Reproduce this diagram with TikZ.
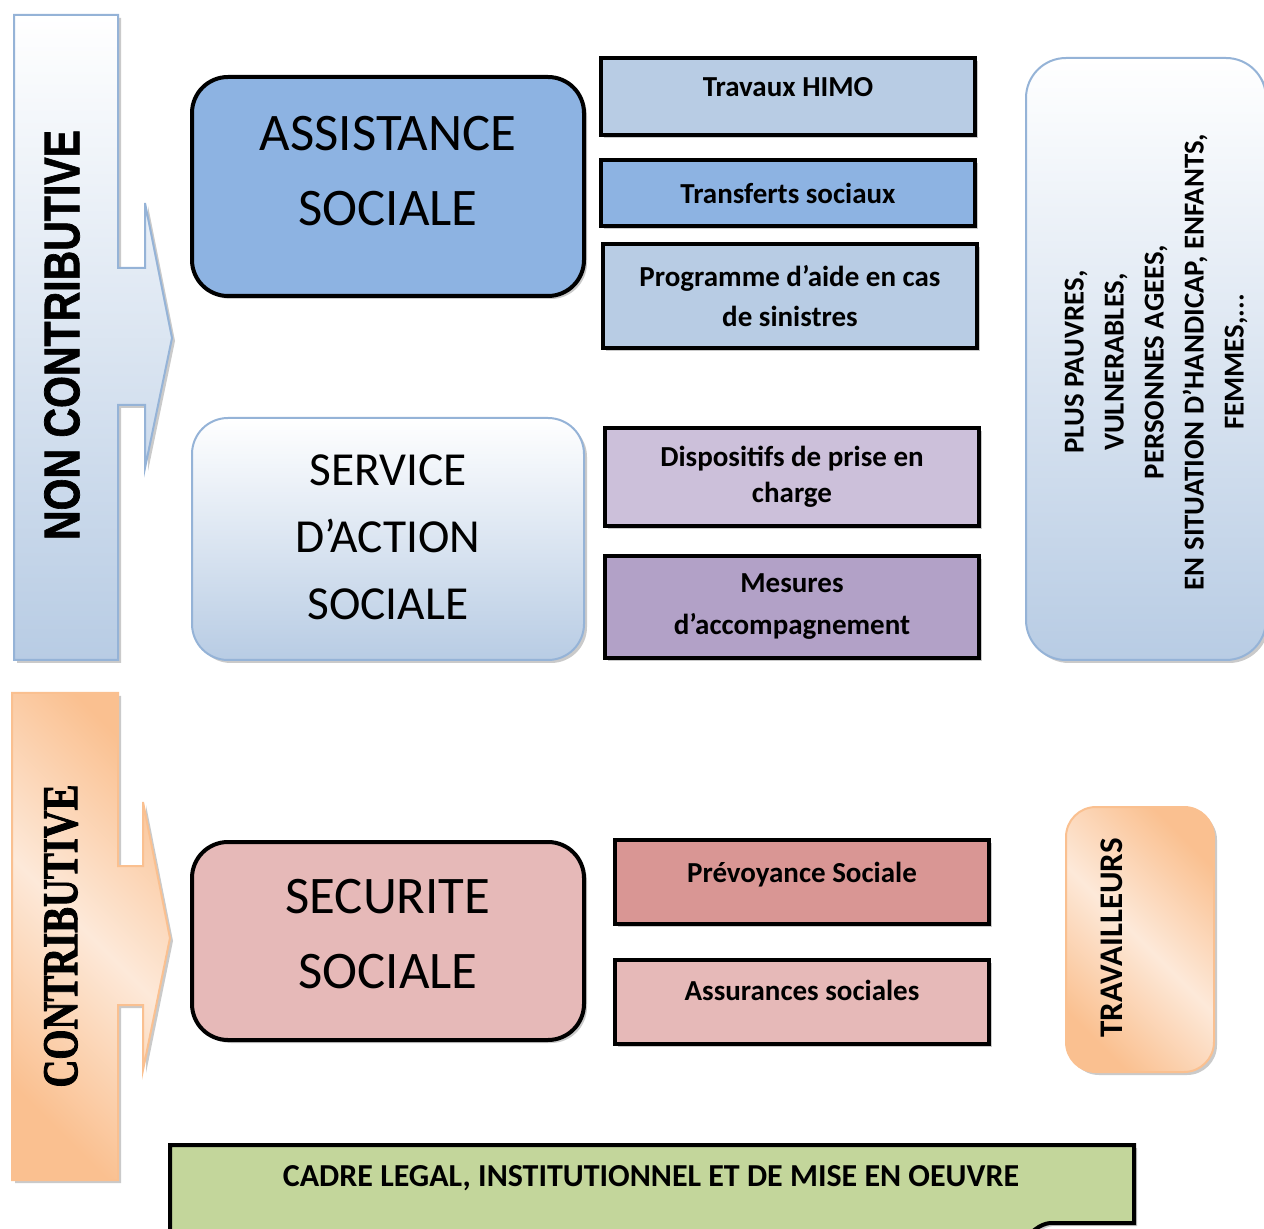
\documentclass[tikz,border=0pt]{standalone}
\usepackage{fontspec}
\usepackage{graphicx}
\setmainfont{Carlito}
\newfontfamily\bannerfont[FakeBold=1.5]{Liberation Sans}
\newfontfamily\bannerseriffont[FakeBold=2]{Liberation Serif}
\usetikzlibrary{shadows}

\definecolor{skyblue}{HTML}{8DB3E2}
\definecolor{paleblue}{HTML}{B8CCE4}
\definecolor{lineblue}{HTML}{95B3D7}
\definecolor{lilac}{HTML}{CCC0DA}
\definecolor{mauve}{HTML}{B2A1C7}
\definecolor{rosedark}{HTML}{D99694}
\definecolor{roselight}{HTML}{E6B9B8}
\definecolor{peach}{HTML}{FAC090}
\definecolor{peachlight}{HTML}{FDE9D9}
\definecolor{sage}{HTML}{C3D69B}

\tikzset{
  softshadow/.style={drop shadow={shadow xshift=1.5pt, shadow yshift=-1.5pt, fill=black!60, opacity=0.35}},
  bigbox/.style={draw=black, line width=2pt, rounded corners=18pt, minimum width=196pt, softshadow},
  bigtext/.style={align=center, font=\fontsize{26.4}{37.5}\selectfont},
  smallbox/.style={draw=black, line width=2pt, minimum width=187pt, align=center,
    font=\fontsize{14.5}{20}\selectfont\bfseries, softshadow},
  raised/.style={text depth=10pt},
  bluegrad/.style={draw=lineblue, line width=1pt, top color=white, bottom color=paleblue, softshadow},
  peachgrad/.style={draw=peach, line width=1pt, left color=peach, right color=peach, middle color=peachlight, shading angle=135, softshadow},
  sidetext/.style={rotate=90, align=center, font=\fontsize{14.4}{20}\selectfont\bfseries}
}

\begin{document}
\begin{tikzpicture}[x=0.5pt, y=-0.5pt]
  \useasboundingbox (0,0) rectangle (1264,1229);
  \clip (0,0) rectangle (1264,1229);

  % fleches de gauche
  \draw[bluegrad] (14,15) -- (118,15) -- (118,268) -- (145,268) -- (145,203) -- (172,338)
    -- (145,468) -- (145,405) -- (118,405) -- (118,660) -- (14,660) -- cycle;
  \node[rotate=90] (noncontrib) at (62,335) {\bannerfont\bfseries\resizebox{205pt}{17.5pt}{NON CONTRIBUTIVE}};

  \draw[peachgrad] (12,693) -- (118,693) -- (118,866) -- (143,866) -- (143,802) -- (170,938)
    -- (143,1070) -- (143,1005) -- (118,1005) -- (118,1180) -- (12,1180) -- cycle;
  \node[rotate=90] (contrib) at (61,936) {\bannerseriffont\bfseries\resizebox{151.5pt}{16.5pt}{CONTRIBUTIVE}};

  % grands blocs
  \node[bigbox, fill=skyblue, minimum height=109.5pt] (assist) at (388,186.5) {};
  \node[bigtext] (assisttxt) at (388,171) {ASSISTANCE\\SOCIALE};

  \node[bigbox, draw=lineblue, line width=1pt, top color=white, bottom color=paleblue,
    minimum height=121pt] (service) at (388,539) {};
  \node[bigtext, font=\fontsize{23.7}{33.5}\selectfont] (servicetxt) at (388,537) {SERVICE\\D'ACTION\\SOCIALE};

  \node[bigbox, fill=roselight, minimum height=99pt] (secu) at (388,941) {};
  \node[bigtext] (secutxt) at (388,934) {SECURITE\\SOCIALE};

  % composantes
  \node[smallbox, raised, fill=paleblue, minimum height=38.5pt] (himo) at (788,96.5) {Travaux HIMO};
  \node[smallbox, fill=skyblue, minimum height=33pt] (transferts) at (788,193) {Transferts sociaux};
  \node[smallbox, fill=paleblue, minimum height=52pt] (sinistres) at (790,296) {Programme d'aide en cas\\de sinistres};
  \node[smallbox, fill=lilac, minimum height=49pt, font=\fontsize{14.5}{18}\selectfont\bfseries] (dispositifs) at (792,477) {Dispositifs de prise en\\charge};
  \node[smallbox, fill=mauve, minimum height=51pt, font=\fontsize{14.5}{21}\selectfont\bfseries] (mesures) at (792,607) {Mesures\\d'accompagnement};
  \node[smallbox, raised, fill=rosedark, minimum height=42pt] (prevoyance) at (802,882) {Prévoyance Sociale};
  \node[smallbox, raised, fill=roselight, minimum height=42pt, text depth=12pt] (assurances) at (802,1002) {Assurances sociales};

  % cibles
  \node[bluegrad, rounded corners=20pt, minimum width=120pt, minimum height=301pt] (cibles) at (1146,359) {};
  \node[sidetext] (ciblestxt) at (1156,362) {PLUS PAUVRES,\\VULNERABLES,\\PERSONNES AGEES,\\EN SITUATION D'HANDICAP, ENFANTS,\\FEMMES,...};

  \node[peachgrad, rounded corners=15pt, minimum width=74pt, minimum height=132.5pt] (travailleurs) at (1140,939.5) {};
  \node[sidetext, font=\fontsize{16.5}{20}\selectfont\bfseries] (travtxt) at (1112,938) {TRAVAILLEURS};

  % cadre
  \draw[fill=sage, line width=2pt, softshadow] (170,1245) -- (170,1145) -- (1134,1145) -- (1134,1223) -- (1050,1223)
    .. controls (1040,1224) and (1030,1232) .. (1020,1245);
  \node[font=\fontsize{16}{18}\selectfont\bfseries] (cadre) at (651,1178) {CADRE LEGAL, INSTITUTIONNEL ET DE MISE EN OEUVRE};
\end{tikzpicture}
\end{document}
